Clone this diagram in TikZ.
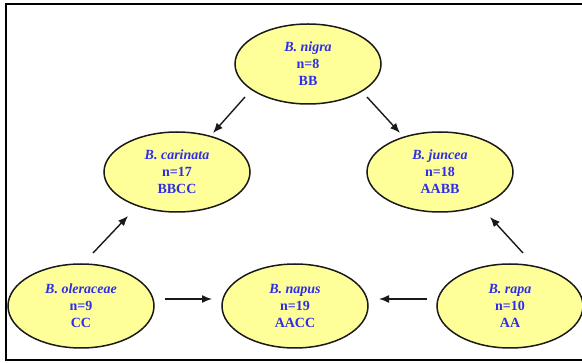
\documentclass[tikz,border=0pt]{standalone}
\usepackage{fontspec}
\setmainfont{Liberation Serif}
\usetikzlibrary{shapes.geometric,arrows.meta}
\definecolor{txtblue}{RGB}{45,45,235}
\definecolor{fillyel}{RGB}{255,255,153}
\definecolor{edge}{RGB}{25,25,25}
\tikzset{
  sp/.style={ellipse,draw=edge,line width=1.5pt,fill=fillyel,minimum width=146pt,minimum height=80pt,inner sep=0pt,
    text=txtblue,font=\fontsize{14pt}{17pt}\selectfont\bfseries,align=center},
  arr/.style={line width=1.4pt,draw=edge,-{Latex[length=10pt,width=8pt]}}
}
\begin{document}
\begin{tikzpicture}[x=1pt,y=-1pt]
\useasboundingbox (0,0) rectangle (582,363);
\draw[line width=2.5pt,black] (582,4) -- (6,4) -- (6,360) -- (582,360);
\node[sp] (nigra) at (308,64) {\textit{B. nigra}\\n=8\\BB};
\node[sp] (carinata) at (177,172) {\textit{B. carinata}\\n=17\\BBCC};
\node[sp] (juncea) at (440,172) {\textit{B. juncea}\\n=18\\AABB};
\node[sp,minimum height=84pt] (oleraceae) at (81,306) {\textit{B. oleraceae}\\n=9\\CC};
\node[sp,minimum height=84pt] (napus) at (295,306) {\textit{B. napus}\\n=19\\AACC};
\node[sp,minimum height=84pt] (rapa) at (510,306) {\textit{B. rapa}\\n=10\\AA};
\draw[arr] ([shift={(-63,33)}]nigra.center) -- ([shift={(36,-39)}]carinata.center);
\draw[arr] ([shift={(59,33)}]nigra.center) -- ([shift={(-40,-39)}]juncea.center);
\draw[arr] ([shift={(12,-53)}]oleraceae.center) -- ([shift={(-49,44)}]carinata.center);
\draw[arr] ([shift={(13,-53)}]rapa.center) -- ([shift={(50,45)}]juncea.center);
\draw[arr] ([shift={(84,-7)}]oleraceae.center) -- ([shift={(-83,-7)}]napus.center);
\draw[arr] ([shift={(-83,-7)}]rapa.center) -- ([shift={(84,-7)}]napus.center);
\end{tikzpicture}
\end{document}
